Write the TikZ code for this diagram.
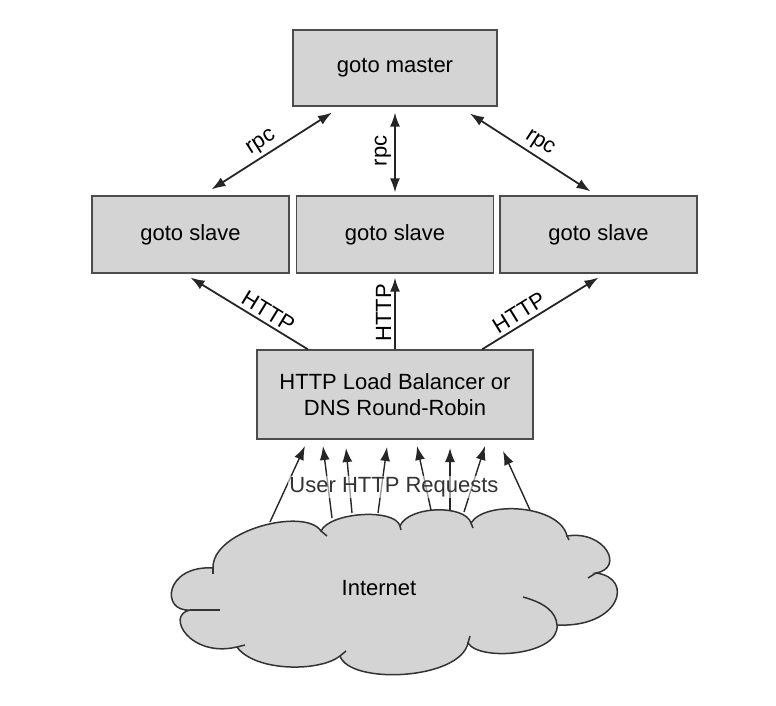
\documentclass[tikz,border=0pt]{standalone}
\usepackage{fontspec}
\setmainfont{Liberation Sans}
\usetikzlibrary{arrows}
\usetikzlibrary{arrows.meta}

\begin{document}
\begin{tikzpicture}[x = 1pt, y = -1pt]
\tikzstyle{BoxStyle}=[shape = rectangle,
                      draw = black!70,
                      line width = 1.2pt,
                      fill = black!17,
                      align = center,
                      font = \fontsize{22}{26}\selectfont]
\tikzstyle{LabelStyle}=[sloped, above, font = \fontsize{22}{26}\selectfont]
\tikzstyle{LinkStyle}=[draw = black!85, line width = 1.8pt]
\tikzstyle{OneWay}=[LinkStyle, -{Latex[length = 14pt, width = 10pt]}]
\tikzstyle{TwoWay}=[LinkStyle, {Latex[length = 14pt, width = 10pt]}-{Latex[length = 14pt, width = 10pt]}]
\tikzstyle{ReqStyle}=[draw = black!85, line width = 1.4pt, -{Latex[length = 14pt, width = 10pt]}]
\tikzstyle{CloudStyle}=[draw = black!80, line width = 1.5pt, fill = black!17]
\tikzstyle{HookStyle}=[draw = black!80, line width = 1.5pt]
\useasboundingbox (0, 0) rectangle (776, 706);
\node[BoxStyle, minimum width = 204pt, minimum height = 76pt] (master) at (395, 68) {goto master};
\node[BoxStyle, minimum width = 197pt, minimum height = 77pt] (slaveA) at (190.5, 234.5) {goto slave};
\node[BoxStyle, minimum width = 197pt, minimum height = 77pt] (slaveB) at (395, 234.5) {goto slave};
\node[BoxStyle, minimum width = 197pt, minimum height = 77pt] (slaveC) at (598.5, 234.5) {goto slave};
\node[BoxStyle, minimum width = 276pt, minimum height = 89pt] (lb) at (395, 394.5) {HTTP Load Balancer or\\DNS Round-Robin};
\draw[TwoWay] ([xshift = 21pt, yshift = 6pt]slaveA.north) -- node[LabelStyle, pos = 0.47] {rpc} ([xshift = -63pt, yshift = -6pt]master.south);
\draw[TwoWay] ([yshift = 3pt]slaveB.north) -- node[LabelStyle, pos = 0.52, inner sep = 3pt] {rpc} ([yshift = -6pt]master.south);
\draw[TwoWay] ([xshift = 75pt, yshift = -7pt]master.south) -- node[LabelStyle, pos = 0.52] {rpc} ([xshift = -8pt, yshift = 4pt]slaveC.north);
\draw[OneWay] ([xshift = -87pt]lb.north) -- node[LabelStyle, pos = 0.39] {HTTP} ([yshift = -4pt]slaveA.south);
\draw[OneWay] (lb.north) -- node[LabelStyle, pos = 0.51, inner sep = 3pt] {HTTP} ([yshift = -4pt]slaveB.south);
\draw[OneWay] ([xshift = 87pt]lb.north) -- node[LabelStyle, pos = 0.37] {HTTP} ([yshift = -4pt]slaveC.south);
\path[CloudStyle] (213, 568) .. controls (212, 530) and (305, 507) .. (321, 531)
  .. controls (330, 512) and (395, 508) .. (400, 526)
  .. controls (408, 506) and (465, 504) .. (471, 523)
  .. controls (485, 500) and (560, 505) .. (567, 536)
  .. controls (605, 530) and (625, 568) .. (596, 573)
  .. controls (635, 578) and (620, 628) .. (557, 625)
  .. controls (560, 655) and (480, 662) .. (468, 643)
  .. controls (460, 680) and (350, 685) .. (340, 656)
  .. controls (320, 672) and (255, 672) .. (237, 647)
  .. controls (190, 658) and (165, 615) .. (190, 610)
  .. controls (160, 612) and (165, 565) .. (213, 568) -- cycle;
\foreach \xa/\ya/\xb/\yb in {213/568/213/574, 321/531/327/536, 400/526/401/530, 471/523/473/528,
                             567/536/569/540, 596/573/588/578, 468/643/470/636, 340/656/346/651,
                             237/647/245/645, 190/610/220/610}
  \draw[HookStyle] (\xa, \ya) -- (\xb, \yb);
\draw[HookStyle] (523, 597) .. controls (545, 603) and (556, 612) .. (557, 625);
\node[font = \fontsize{22}{26}\selectfont] (inet) at (379, 588) {Internet};
\foreach \i/\ux/\uy/\rx/\ry in {1/270/522/305/446, 2/332/518/323/446, 3/352/513/346/448, 4/378/513/387/447,
                                5/431/510/417/446, 6/450/510/450/448, 7/464/512/485/446, 8/530/510/503/451}
{
  \coordinate (u\i) at (\ux, \uy);
  \coordinate (r\i) at (\rx, \ry);
  \draw[ReqStyle] (u\i) -- (r\i);
}
\node[font = \fontsize{22}{26}\selectfont, text = black!80, fill = white, fill opacity = 0.55, text opacity = 1, inner sep = 1pt] (req) at (394, 487) {User HTTP Requests};
\end{tikzpicture}
\end{document}
